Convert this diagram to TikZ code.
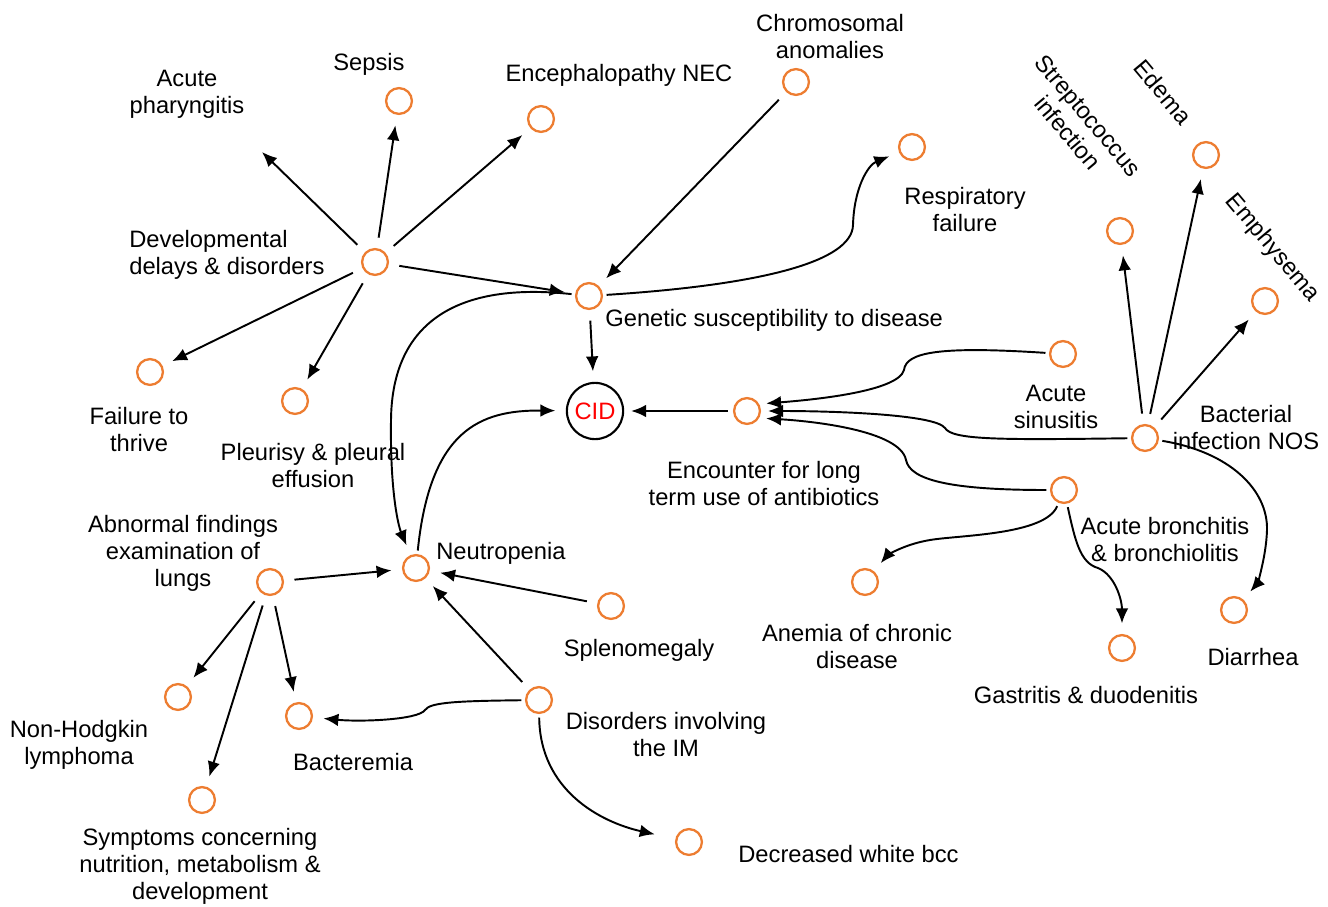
\documentclass[tikz,border=0pt]{standalone}
\usepackage{fontspec}
\setmainfont{Liberation Sans}
\usetikzlibrary{arrows.meta}
\definecolor{orangec}{RGB}{237,125,49}
\begin{document}
\begin{tikzpicture}[x=0.02cm,y=-0.02cm,
  nd/.style={circle,draw=orangec,line width=1.3pt,minimum size=14.7pt,inner sep=0pt},
  lbl/.style={font=\fontsize{13.5}{15.4}\selectfont,align=center,inner sep=0pt,yshift=-1.2pt},
  arr/.style={-{Latex[length=8.5pt,width=7.2pt]},line width=1.1pt,shorten <=6pt,shorten >=6pt}]
\useasboundingbox (0,0) rectangle (1328,906);

% circles
\node[circle,draw=black,line width=1.2pt,minimum size=32pt,inner sep=0pt,
      font=\fontsize{13.5}{15.4}\selectfont,text=red] (cid) at (595,411) {CID};
\node[nd] (gen) at (589,296) {};
\node[nd] (dev) at (375,262) {};
\node[nd] (sep) at (399,101) {};
\node[nd] (ence) at (541,119) {};
\node[nd] (chr) at (796,82) {};
\node[nd] (resp) at (912,147) {};
\coordinate (phar) at (262,152);
\node[nd] (fail) at (150,372) {};
\node[nd] (pleu) at (295,401) {};
\node[nd] (neut) at (416,568) {};
\node[nd] (abn) at (270,582) {};
\node[nd] (nhl) at (178,697) {};
\node[nd] (bactm) at (299,716) {};
\node[nd] (symp) at (202,800) {};
\node[nd] (dis) at (539,700) {};
\node[nd] (spl) at (611,606) {};
\node[nd] (dec) at (689,842) {};
\node[nd] (encn) at (747,411) {};
\node[nd] (sin) at (1063,354) {};
\node[nd] (bact) at (1145,438) {};
\node[nd] (bron) at (1064,490) {};
\node[nd] (anem) at (865,582) {};
\node[nd] (gast) at (1122,648) {};
\node[nd] (diar) at (1234,610) {};
\node[nd] (strep) at (1120,231) {};
\node[nd] (edema) at (1206,155) {};
\node[nd] (emph) at (1265,301) {};

% labels
\node[lbl] (lphar) at (187,92) {Acute\\pharyngitis};
\node[lbl] (lsep) at (369,62) {Sepsis};
\node[lbl] (lence) at (619,73) {Encephalopathy NEC};
\node[lbl] (lchr) at (830,34) {Chromosomal\\anomalies};
\node[lbl] (lresp) at (965,207) {Respiratory\\failure};
\node[lbl,align=left,anchor=west] (ldev) at (129,253) {Developmental\\delays \& disorders};
\node[lbl] (lfail) at (139,427) {Failure to\\thrive};
\node[lbl] (lpleu) at (313,463) {Pleurisy \& pleural\\effusion};
\node[lbl,anchor=west] (lgen) at (605,318) {Genetic susceptibility to disease};
\node[lbl] (lencn) at (764,481) {Encounter for long\\term use of antibiotics};
\node[lbl] (lsin) at (1056,405) {Acute\\sinusitis};
\node[lbl] (lbact) at (1246,425) {Bacterial\\infection NOS};
\node[lbl,rotate=-50] (lstrep) at (1078,122) {Streptococcus\\infection};
\node[lbl,rotate=-50] (ledema) at (1163,90) {Edema};
\node[lbl,rotate=-50] (lemph) at (1272,246) {Emphysema};
\node[lbl] (labn) at (183,551) {Abnormal findings\\examination of\\lungs};
\node[lbl,anchor=west] (lneut) at (436,551) {Neutropenia};
\node[lbl] (lnhl) at (79,743) {Non-Hodgkin\\lymphoma};
\node[lbl] (lbactm) at (353,760) {Bacteremia};
\node[lbl] (lsymp) at (200,864) {Symptoms concerning\\nutrition, metabolism \&\\development};
\node[lbl] (lspl) at (639,648) {Splenomegaly};
\node[lbl] (ldis) at (666,732) {Disorders involving\\the IM};
\node[lbl,anchor=west] (ldec) at (738,852) {Decreased white bcc};
\node[lbl] (lanem) at (857,644) {Anemia of chronic\\disease};
\node[lbl] (lbron) at (1165,537) {Acute bronchitis\\\& bronchiolitis};
\node[lbl] (lgast) at (1086,693) {Gastritis \& duodenitis};
\node[lbl] (ldiar) at (1253,655) {Diarrhea};

% straight connectors
\draw[arr,shorten >=0pt] (dev) -- (phar);
\draw[arr] (dev) -- (sep);
\draw[arr] (dev) -- (ence);
\draw[arr] (dev) -- (gen);
\draw[arr] (dev) -- (fail);
\draw[arr] (dev) -- (pleu);
\draw[arr] (chr) -- (gen);
\draw[arr] (gen) -- (cid);
\draw[arr,shorten <=3pt,shorten >=4pt] (encn) -- (cid);
\draw[arr] (bact) -- (strep);
\draw[arr] (bact) -- (edema);
\draw[arr] (bact) -- (emph);
\draw[arr] (abn) -- (neut);
\draw[arr] (abn) -- (nhl);
\draw[arr] (abn) -- (bactm);
\draw[arr] (abn) -- (symp);
\draw[arr] (spl) -- (neut);
\draw[arr] (dis) -- (neut);

% curved connectors
\draw[arr,shorten <=2pt] (gen) .. controls (760,285) and (852,262) .. (853,225)
   .. controls (854,188) and (868,165) .. (resp);
\draw[arr,shorten <=2pt] (gen) .. controls (460,282) and (392,320) .. (391,420)
   .. controls (390,490) and (398,525) .. (neut);
\draw[arr,shorten <=2pt] (neut) .. controls (430,430) and (480,410) .. (cid);
\draw[arr,shorten <=2pt,shorten >=4pt] (sin) .. controls (940,346) and (906,352) .. (904,370)
   .. controls (898,392) and (810,400) .. (encn.30);
\draw[arr,shorten <=2pt,shorten >=4pt] (bact) .. controls (1000,440) and (952,440) .. (945,428)
   .. controls (935,414) and (830,411) .. (encn.east);
\draw[arr,shorten <=2pt,shorten >=4pt] (bron) .. controls (950,490) and (910,480) .. (906,460)
   .. controls (900,430) and (810,421) .. (encn.-30);
\draw[arr,shorten <=2pt] (bact) .. controls (1230,452) and (1268,490) .. (1267,530)
   .. controls (1266,560) and (1256,585) .. (diar);
\draw[arr,shorten <=2pt] (bron) .. controls (1045,535) and (960,535) .. (930,540)
   .. controls (900,545) and (885,558) .. (anem);
\draw[arr,shorten <=2pt] (bron) .. controls (1075,540) and (1080,563) .. (1098,568)
   .. controls (1115,575) and (1122,600) .. (gast);
\draw[arr,shorten <=2pt] (dis) .. controls (460,701) and (430,702) .. (425,710)
   .. controls (418,720) and (360,722) .. (bactm);
\draw[arr,shorten <=2pt,shorten >=12pt] (dis) .. controls (540,790) and (600,822) .. (dec);
\end{tikzpicture}
\end{document}
